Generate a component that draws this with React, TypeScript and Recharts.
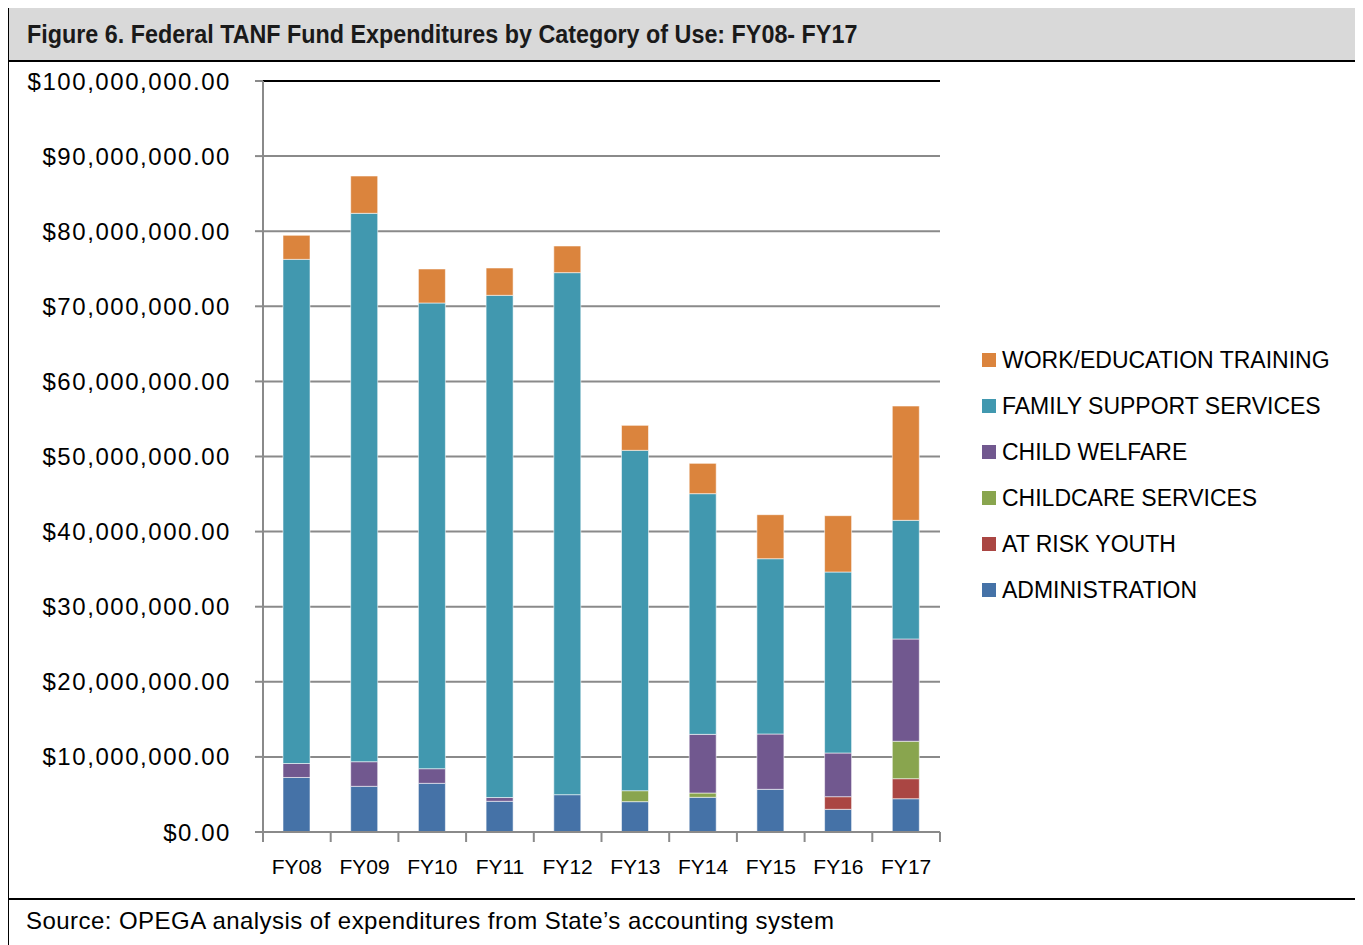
import React from 'react';
import { BarChart, Bar, XAxis, YAxis, CartesianGrid, ReferenceLine } from 'recharts';

const years = ['FY08', 'FY09', 'FY10', 'FY11', 'FY12', 'FY13', 'FY14', 'FY15', 'FY16', 'FY17'];

// millions of dollars
const administration = [7.26, 6.08, 6.48, 4.09, 4.97, 4.04, 4.62, 5.68, 3.02, 4.43];
const atRiskYouth = [0, 0, 0, 0, 0, 0, 0, 0, 1.68, 2.67];
const childcare = [0, 0, 0, 0, 0, 1.46, 0.57, 0, 0, 4.98];
const childWelfare = [1.86, 3.28, 1.95, 0.5, 0, 0, 7.81, 7.37, 5.82, 13.62];
const familySupport = [67.13, 73.02, 62.01, 66.87, 69.51, 45.32, 32.05, 23.34, 24.1, 15.8];
const workEducation = [3.2, 4.97, 4.53, 3.64, 3.55, 3.33, 4.04, 5.86, 7.5, 15.22];

const yTicks = [0, 10, 20, 30, 40, 50, 60, 70, 80, 90, 100].map((m) => m * 1e6);

const series = [
  { key: 'admin', name: 'ADMINISTRATION', values: administration, color: '#4572A7' },
  { key: 'risk', name: 'AT RISK YOUTH', values: atRiskYouth, color: '#AA4643' },
  { key: 'care', name: 'CHILDCARE SERVICES', values: childcare, color: '#89A54E' },
  { key: 'welfare', name: 'CHILD WELFARE', values: childWelfare, color: '#71588F' },
  { key: 'family', name: 'FAMILY SUPPORT SERVICES', values: familySupport, color: '#4198AF' },
  { key: 'work', name: 'WORK/EDUCATION TRAINING', values: workEducation, color: '#DB843D' },
];

const data = years.map((fy, i) => {
  const row: Record<string, any> = { fy };
  series.forEach((s) => {
    row[s.key] = s.values[i] * 1e6;
  });
  return row;
});

const FONT = '"Liberation Sans", Arial, sans-serif';
const GRID = '#8a8a8a';

const CHART_W = 1300;
const CHART_H = 837;
const M = { top: 19, right: 367, bottom: 0, left: 0 };
const Y_W = 256;
const X_H = 67;
const band = (CHART_W - M.left - M.right - Y_W) / years.length;

const money = (v: number) =>
  '$' + v.toLocaleString('en-US', { minimumFractionDigits: 2, maximumFractionDigits: 2 });

function XTick(props: any) {
  const { x, y, payload, index } = props;
  const last = index === years.length - 1;
  return (
    <g>
      <line x1={x - band / 2} x2={x - band / 2} y1={y} y2={y + 10} stroke={GRID} strokeWidth={2} />
      {last && <line x1={x + band / 2} x2={x + band / 2} y1={y} y2={y + 10} stroke={GRID} strokeWidth={2} />}
      <text x={x} y={y + 42} textAnchor="middle" fontSize={21} fill="#000" fontFamily={FONT}>
        {payload.value}
      </text>
    </g>
  );
}

export default function App() {
  return (
    <div style={{ position: 'relative', width: 1353, height: 940, marginTop: -2, marginLeft: -1, fontFamily: FONT }}>
      <div
        style={{
          position: 'absolute', left: 0, top: 0, width: 1353, height: 960,
          borderLeft: '2px solid #000', borderRight: '2px solid #000',
          boxSizing: 'border-box',
        }}
      />
      <div
        style={{
          position: 'absolute', left: 0, top: 0, width: 1353, height: 56, background: '#d9d9d9',
          border: '2px solid #000', boxSizing: 'border-box', display: 'flex', alignItems: 'center',
        }}
      >
        <span
          style={{
            marginLeft: 18, fontSize: 25, fontWeight: 'bold', color: '#1a1a1a', display: 'inline-block',
            transform: 'scaleX(0.933)', transformOrigin: 'left center', whiteSpace: 'nowrap',
          }}
        >
          Figure 6. Federal TANF Fund Expenditures by Category of Use: FY08- FY17
        </span>
      </div>
      <div style={{ position: 'absolute', left: 0, top: 56 }}>
        <BarChart width={CHART_W} height={CHART_H} data={data} margin={M} barSize={27}>
          <CartesianGrid vertical={false} stroke={GRID} strokeWidth={2} strokeDasharray="" />
          <XAxis
            dataKey="fy"
            height={X_H}
            tickLine={false}
            tickSize={0}
            tickMargin={0}
            axisLine={{ stroke: GRID, strokeWidth: 2 }}
            tick={<XTick />}
            interval={0}
          />
          <YAxis
            width={Y_W}
            domain={[0, 100e6]}
            ticks={yTicks}
            tickFormatter={money}
            tickSize={8}
            tickMargin={24}
            tickLine={{ stroke: GRID, strokeWidth: 2 }}
            axisLine={{ stroke: GRID, strokeWidth: 2 }}
            tick={{ fontSize: 24, fill: '#000', fontFamily: FONT, letterSpacing: 1.55 }}
            allowDataOverflow
          />
          <YAxis
            yAxisId="frame"
            orientation="right"
            width={0}
            domain={[0, 100e6]}
            tick={false}
            tickLine={false}
            axisLine={{ stroke: '#000', strokeWidth: 2 }}
          />
          <ReferenceLine y={100e6} stroke="#000" strokeWidth={2} />
          {series.map((s) => (
            <Bar
              key={s.key}
              dataKey={s.key}
              name={s.name}
              stackId="a"
              fill={s.color}
              stroke="rgba(255,255,255,0.55)"
              strokeWidth={1}
              isAnimationActive={false}
            />
          ))}
        </BarChart>
      </div>
      <div style={{ position: 'absolute', left: 975, top: 331 }}>
        {[...series].reverse().map((s) => (
          <div key={s.key} style={{ display: 'flex', alignItems: 'center', height: 46 }}>
            <div style={{ width: 14, height: 14, background: s.color, marginRight: 6 }} />
            <span style={{ fontSize: 23, color: '#000', whiteSpace: 'nowrap' }}>{s.name}</span>
          </div>
        ))}
      </div>
      <div style={{ position: 'absolute', left: 0, top: 892, width: 1353, height: 2, background: '#000' }} />
      <div style={{ position: 'absolute', left: 19, top: 901, fontSize: 24, letterSpacing: 0.45, color: '#000', whiteSpace: 'nowrap' }}>
        Source: OPEGA analysis of expenditures from State’s accounting system
      </div>
    </div>
  );
}
